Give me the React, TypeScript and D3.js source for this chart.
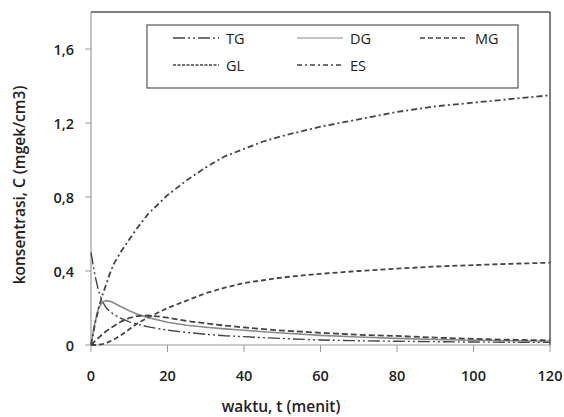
import React from "react";
import * as d3 from "d3";

// waktu (menit)
const times = [0, 1, 2, 3, 4, 5, 6, 8, 10, 12, 15, 20, 25, 30, 35, 40, 45, 50, 60, 70, 80, 90, 100, 110, 120];

const tg = [0.5, 0.38, 0.29, 0.235, 0.2, 0.18, 0.165, 0.142, 0.125, 0.113, 0.098, 0.08, 0.068, 0.058, 0.05, 0.045, 0.04, 0.035, 0.027, 0.023, 0.02, 0.018, 0.016, 0.015, 0.014];
const dg = [0, 0.12, 0.2, 0.232, 0.24, 0.236, 0.227, 0.205, 0.185, 0.168, 0.148, 0.123, 0.107, 0.096, 0.087, 0.08, 0.072, 0.065, 0.052, 0.043, 0.036, 0.03, 0.026, 0.023, 0.02];
const mg = [0, 0.02, 0.04, 0.058, 0.075, 0.09, 0.103, 0.128, 0.146, 0.156, 0.16, 0.148, 0.13, 0.117, 0.105, 0.095, 0.086, 0.078, 0.066, 0.055, 0.049, 0.04, 0.033, 0.028, 0.025];
const gl = [0, 0, 0.002, 0.005, 0.01, 0.02, 0.03, 0.055, 0.085, 0.115, 0.15, 0.2, 0.24, 0.28, 0.31, 0.335, 0.35, 0.365, 0.385, 0.4, 0.413, 0.424, 0.432, 0.439, 0.445];
const es = [0, 0.11, 0.2, 0.27, 0.33, 0.39, 0.44, 0.51, 0.57, 0.63, 0.71, 0.81, 0.89, 0.96, 1.02, 1.06, 1.1, 1.13, 1.18, 1.22, 1.26, 1.29, 1.31, 1.33, 1.35];

const xTicks = [0, 20, 40, 60, 80, 100, 120];
const yTicks = [0, 0.4, 0.8, 1.2, 1.6];

const series = [
  { name: "TG", values: tg, color: "#444", width: 1.4, dash: "12,3,2,3,2,3" },
  { name: "DG", values: dg, color: "#8a8a8a", width: 1.6, dash: "" },
  { name: "MG", values: mg, color: "#444", width: 1.8, dash: "6,3" },
  { name: "GL", values: gl, color: "#444", width: 1.8, dash: "5,3" },
  { name: "ES", values: es, color: "#444", width: 1.8, dash: "6,3,2,3" },
];

const legendDash: Record<string, string> = {
  TG: "12,3,2,3,2,3",
  DG: "",
  MG: "5,3",
  GL: "3,1.5",
  ES: "5,3,2,3",
};

const font = "'Open Sans', sans-serif";

export default function App() {
  const left = 91, right = 550, top = 12, bottom = 345;
  const x = d3.scaleLinear().domain([0, 120]).range([left, right]);
  const y = d3.scaleLinear().domain([0, 1.8]).range([bottom, top]);
  const line = (vals: number[]) =>
    d3.line<number>().x((_, i) => x(times[i])).y((d) => y(d))(vals) || "";

  const legendPos = [
    { x: 173, y: 38 }, { x: 297, y: 38 }, { x: 420, y: 38 },
    { x: 173, y: 65 }, { x: 297, y: 65 },
  ];

  return (
    <svg width={564} height={417} style={{ position: "absolute", left: 0, top: 0, background: "#fff" }}>
      {/* plot frame */}
      <line x1={left} x2={right} y1={top} y2={top} stroke="#555" strokeWidth={1.5} />
      <line x1={right} x2={right} y1={top} y2={bottom} stroke="#555" strokeWidth={1.5} />
      <line x1={left} x2={left} y1={top} y2={bottom} stroke="#999" strokeWidth={1.2} />
      <line x1={left} x2={right} y1={bottom} y2={bottom} stroke="#999" strokeWidth={1.2} />

      {yTicks.map((t) => (
        <g key={t}>
          <line x1={left - 6} x2={left} y1={y(t)} y2={y(t)} stroke="#999" />
          <text x={74} y={y(t) + 5.5} textAnchor="end" fontFamily={font} fontSize={14.5} fontWeight={600} fill="#222">
            {String(t).replace(".", ",")}
          </text>
        </g>
      ))}
      {xTicks.map((t) => (
        <g key={t}>
          <line x1={x(t)} x2={x(t)} y1={bottom} y2={bottom + 7} stroke="#999" />
          <text x={x(t)} y={381} textAnchor="middle" fontFamily={font} fontSize={14.5} fontWeight={600} fill="#222">
            {t}
          </text>
        </g>
      ))}

      <text x={281} y={412} textAnchor="middle" fontFamily={font} fontSize={15.5} fontWeight={600} fill="#222">
        waktu, t (menit)
      </text>
      <text transform="translate(25,185) rotate(-90)" textAnchor="middle" fontFamily={font} fontSize={15.5} fontWeight={600} fill="#222">
        konsentrasi, C (mgek/cm3)
      </text>

      {series.map((s) => (
        <path key={s.name} d={line(s.values)} fill="none" stroke={s.color} strokeWidth={s.width} strokeDasharray={s.dash} />
      ))}

      {/* legend */}
      <rect x={147} y={25} width={371} height={63} fill="#fff" stroke="#555" strokeWidth={1.2} />
      {series.map((s, i) => (
        <g key={s.name}>
          <line x1={legendPos[i].x} x2={legendPos[i].x + 46} y1={legendPos[i].y} y2={legendPos[i].y}
            stroke={s.color} strokeWidth={s.name === "DG" ? 1.2 : 1.3} strokeDasharray={legendDash[s.name]} />
          <text x={legendPos[i].x + (i % 3 === 2 ? 55 : 53)} y={legendPos[i].y + 5.5} fontFamily={font} fontSize={14.5} fill="#222">
            {s.name}
          </text>
        </g>
      ))}
    </svg>
  );
}
